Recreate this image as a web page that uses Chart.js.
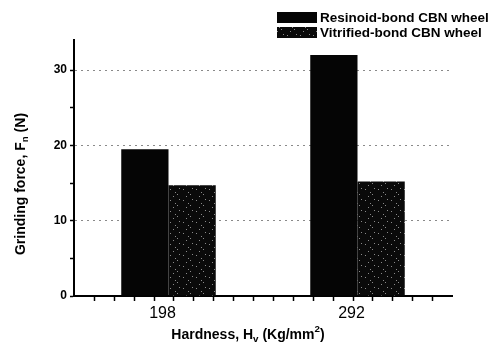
<!DOCTYPE html>
<html>
<head>
<meta charset="utf-8">
<script src="https://cdn.jsdelivr.net/npm/chart.js@4.4.1/dist/chart.umd.min.js"></script>
<style>
  body { margin: 0; background: #fff; }
  canvas { display: block; }
</style>
</head>
<body>
<canvas id="barChart" width="492" height="345"></canvas>
<script>
// data
var hardness = ['198', '292'];
var resinoidForce = [19.5, 32.0];
var vitrifiedForce = [14.7, 15.2];
var seriesNames = ['Resinoid-bond CBN wheel', 'Vitrified-bond CBN wheel'];
var yTicks = [0, 10, 20, 30];

var FONT = "'Liberation Sans', Arial, sans-serif";

// speckled dark fill for the vitrified wheel
function speckle() {
  var c = document.createElement('canvas');
  c.width = 13; c.height = 11;
  var g = c.getContext('2d');
  g.fillStyle = '#0a0a0a';
  g.fillRect(0, 0, 13, 11);
  g.fillStyle = '#8a8a8a';
  [[1, 2], [8, 7], [4, 9], [10, 1], [6, 5]].forEach(function (p) { g.fillRect(p[0], p[1], 1, 1); });
  return g.createPattern(c, 'repeat');
}
var vitrifiedFill = speckle();

// text with sub/superscript pieces
function richText(ctx, parts, size) {
  var w = 0;
  parts.forEach(function (p) {
    ctx.font = 'bold ' + (p.sub || p.sup ? size * 0.7 : size) + 'px ' + FONT;
    p.w = ctx.measureText(p.t).width;
    w += p.w;
  });
  var x = -w / 2;
  parts.forEach(function (p) {
    var s = p.sub || p.sup ? size * 0.7 : size;
    ctx.font = 'bold ' + s + 'px ' + FONT;
    var dy = p.sub ? size * 0.3 : (p.sup ? -size * 0.4 : 0);
    ctx.fillText(p.t, x, dy);
    x += p.w;
  });
}

var extras = {
  id: 'extras',
  afterDraw: function (chart) {
    var ctx = chart.ctx;
    var area = chart.chartArea;
    ctx.save();
    ctx.fillStyle = '#000';
    ctx.textBaseline = 'middle';
    ctx.textAlign = 'left';

    // minor ticks along the x axis, every 1/19 of the axis
    ctx.strokeStyle = '#000';
    ctx.lineWidth = 1.5;
    for (var k = 1; k < 19; k++) {
      var px = Math.round(area.left + k * area.width / 19) + 0.5;
      ctx.beginPath();
      ctx.moveTo(px, area.bottom);
      ctx.lineTo(px, area.bottom + 5);
      ctx.stroke();
    }

    // axis titles
    ctx.save();
    ctx.translate(248, 335);
    richText(ctx, [{ t: 'Hardness, H' }, { t: 'v', sub: true }, { t: ' (Kg/mm' }, { t: '2', sup: true }, { t: ')' }], 14);
    ctx.restore();
    ctx.save();
    ctx.translate(21, 184);
    ctx.rotate(-Math.PI / 2);
    richText(ctx, [{ t: 'Grinding force, F' }, { t: 'n', sub: true }, { t: ' (N)' }], 14);
    ctx.restore();

    // legend
    var fills = ['#050505', vitrifiedFill];
    ctx.font = 'bold 13.5px ' + FONT;
    chart.data.datasets.forEach(function (ds, i) {
      var top = 12 + i * 15;
      ctx.fillStyle = fills[i];
      ctx.fillRect(277, top, 40, 11);
      ctx.fillStyle = '#000';
      ctx.fillText(ds.label, 320, top + 6);
    });
    ctx.restore();
  }
};

new Chart(document.getElementById('barChart').getContext('2d'), {
  type: 'bar',
  data: {
    labels: hardness,
    datasets: [{
      label: seriesNames[0],
      data: resinoidForce,
      backgroundColor: '#050505',
      borderWidth: 0
    }, {
      label: seriesNames[1],
      data: vitrifiedForce,
      backgroundColor: vitrifiedFill,
      borderWidth: 0
    }]
  },
  plugins: [extras],
  options: {
    responsive: false,
    animation: false,
    devicePixelRatio: 1,
    layout: { padding: { left: 0, right: 40, top: 40, bottom: 0 } },
    categoryPercentage: 0.5,
    barPercentage: 1.0,
    plugins: {
      legend: { display: false },
      tooltip: { enabled: false }
    },
    scales: {
      x: {
        type: 'category',
        grid: { display: true, drawOnChartArea: false, drawTicks: false },
        border: { color: '#000', width: 2 },
        ticks: {
          color: '#000',
          padding: 8,
          labelOffset: -6,
          font: { family: FONT, size: 16 }
        },
        afterFit: function (s) { s.height = 49; }
      },
      y: {
        min: 0,
        max: 34,
        border: { color: '#000', width: 2, dash: [2, 4] },
        grid: {
          color: function (c) {
            var v = c.tick ? c.tick.value : 0;
            return v > 0 && yTicks.indexOf(v) >= 0 ? '#8a8a8a' : 'rgba(0,0,0,0)';
          },
          tickColor: '#000',
          tickLength: 4,
          tickWidth: 1.5,
          lineWidth: 1
        },
        ticks: {
          stepSize: 5,
          includeBounds: false,
          color: '#000',
          padding: 3,
          font: { family: FONT, size: 12, weight: 'bold' },
          callback: function (v) { return yTicks.indexOf(v) >= 0 ? v : ''; }
        },
        afterFit: function (s) { s.width = 74; }
      }
    }
  }
});
</script>
</body>
</html>
